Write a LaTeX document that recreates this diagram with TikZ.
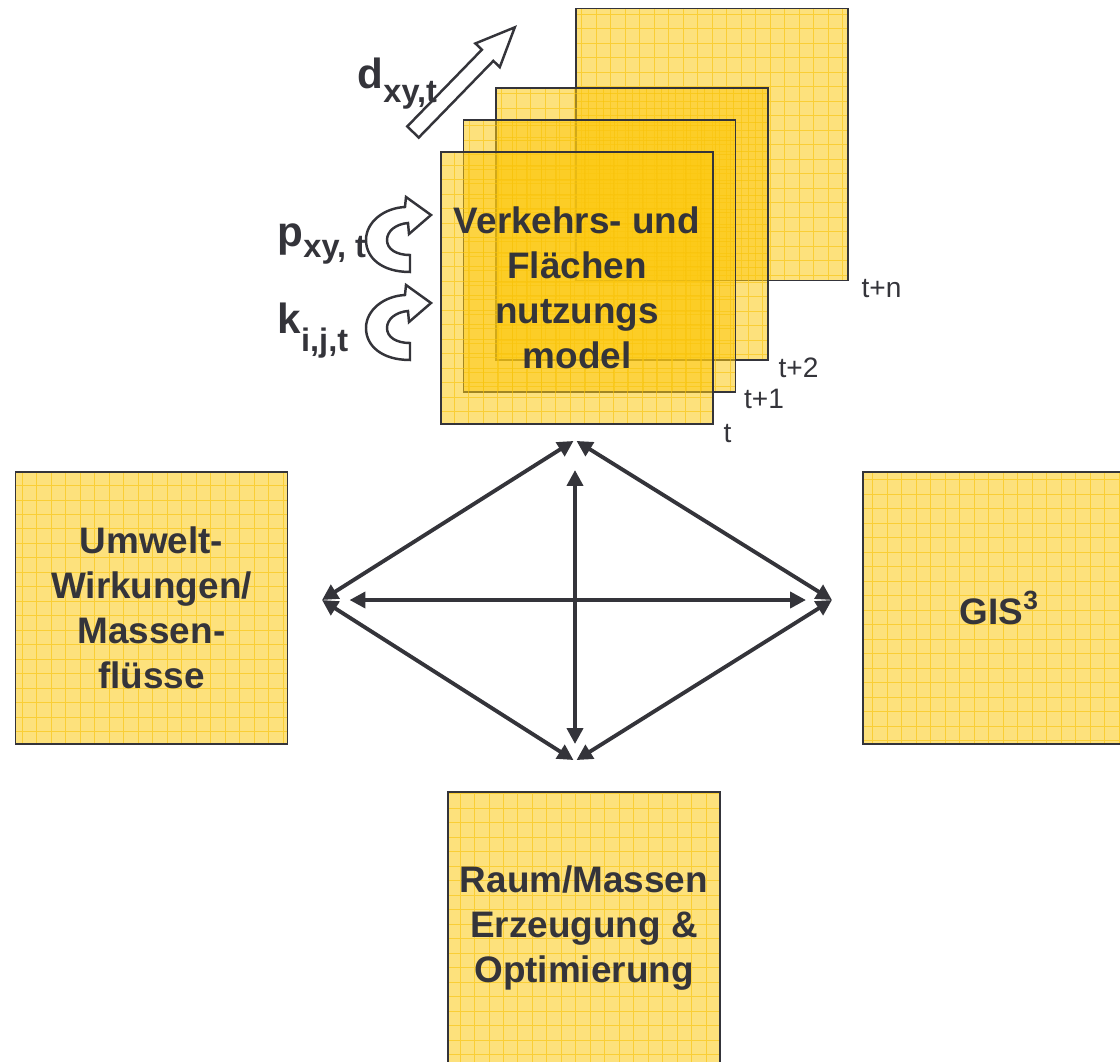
\documentclass[tikz,border=0pt]{standalone}
\usepackage{fontspec}
\setmainfont{Liberation Sans}
\usetikzlibrary{arrows.meta,calc,positioning}
\definecolor{ink}{RGB}{52,52,58}
\definecolor{gold}{RGB}{252,200,16}
\definecolor{gridgold}{RGB}{248,194,8}
\newcommand{\lowidx}[2]{\raisebox{-#1}{\fontsize{18.5}{18.5}\selectfont #2}}

\begin{document}
\begin{tikzpicture}[x=0.02cm, y=-0.02cm,
                    thick,
                    >={Triangle[length=9pt,width=9pt]}]
  \tikzstyle{gridline}=[draw=gridgold, draw opacity=0.6, line width=0.5pt]
  \tikzstyle{box}=[rectangle,
                   minimum width=5.44cm,
                   minimum height=5.44cm,
                   inner sep=0pt,
                   draw=ink, line width=1pt,
                   fill=gold, fill opacity=0.55, text opacity=1,
                   text=ink, align=center,
                   font=\fontsize{21}{25.5}\selectfont\bfseries,
                   path picture={\draw[gridline, xstep=0.29cm, ystep=0.29cm]
                     (path picture bounding box.south west) grid
                     (path picture bounding box.north east);}]
  \tikzstyle{stamp}=[text=ink, inner sep=0pt, anchor=base west,
                     font=\fontsize{16}{16}\selectfont]
  \tikzstyle{sym}=[text=ink, inner sep=0pt, anchor=base west,
                   font=\fontsize{24}{24}\selectfont\bfseries]
  \tikzstyle{hollow}=[draw=ink, fill=white, line width=1.4pt]
  \tikzstyle{link}=[<->, draw=ink, line width=2.2pt]

  \useasboundingbox (0,0) rectangle (1120,1062);

  \node[box] (mn) at (712,144.5) {};
  \node[box] (m2) at (632,224) {};
  \node[box] (m1) at (599.5,256) {};
  \node[box] (mt) at (577,288) {Verkehrs- und\\Flächen\\nutzungs\\model};

  \node[stamp] (ln) at ($(mn.south east)+(12,16)$) {t+n};
  \node[stamp] (l2) at ($(m2.south east)+(9,17)$) {t+2};
  \node[stamp] (l1) at ($(m1.south east)+(7,16)$) {t+1};
  \node[stamp] (lt) at ($(mt.south east)+(9,18)$) {t};

  \node[box] (umwelt) at (151.5,608) {Umwelt-\\Wirkungen/\\Massen-\\flüsse};
  \node[box] (gis) at (999,608) {GIS\raisebox{8.5pt}{\fontsize{15}{15}\selectfont 3}};
  \node[box] (raum) at (584,928) {Raum/Massen\\Erzeugung \&\\Optimierung};

  \begin{scope}[shift={(413,132)}, rotate=45.8]
    \draw[hollow] (0,-8) -- (107,-8) -- (107,-17) -- (146,0) -- (107,17)
                  -- (107,8) -- (0,8) -- cycle;
  \end{scope}
  \draw[hollow] (410,272) .. controls (382,272) and (366,258) .. (366,240)
                .. controls (366,222) and (384,208) .. (405,207) -- (406,197)
                -- (431,215) -- (409,234) -- (408,223)
                .. controls (396,224) and (387,231) .. (387,240)
                .. controls (387,249) and (396,255) .. (410,255) -- cycle;
  \begin{scope}[shift={(0,88)}]
    \draw[hollow] (410,272) .. controls (382,272) and (366,258) .. (366,240)
                  .. controls (366,222) and (384,208) .. (405,207) -- (406,197)
                  -- (431,215) -- (409,234) -- (408,223)
                  .. controls (396,224) and (387,231) .. (387,240)
                  .. controls (387,249) and (396,255) .. (410,255) -- cycle;
  \end{scope}

  \node[sym] (dlab) at (357,88) {d\lowidx{8.5pt}{xy,t}};
  \node[sym] (plab) at (277,246) {p\lowidx{6.6pt}{xy, t}};
  \node[sym] (klab) at (277,333) {k\lowidx{10.5pt}{i,j,t}};

  \coordinate (ntop) at (575,440);
  \coordinate (nleft) at (322,600);
  \coordinate (nright) at (832,600);
  \coordinate (nbot) at (575,761);

  \draw[link, shorten >=1pt] (nleft) -- (ntop);
  \draw[link, shorten <=1pt] (ntop) -- (nright);
  \draw[link, shorten >=1pt] (nleft) -- (nbot);
  \draw[link, shorten <=1pt] (nbot) -- (nright);
  \draw[link, shorten <=0.6cm, shorten >=0.34cm] (ntop) -- (nbot);
  \draw[link, shorten <=0.55cm, shorten >=0.52cm] (nleft) -- (nright);
\end{tikzpicture}
\end{document}
